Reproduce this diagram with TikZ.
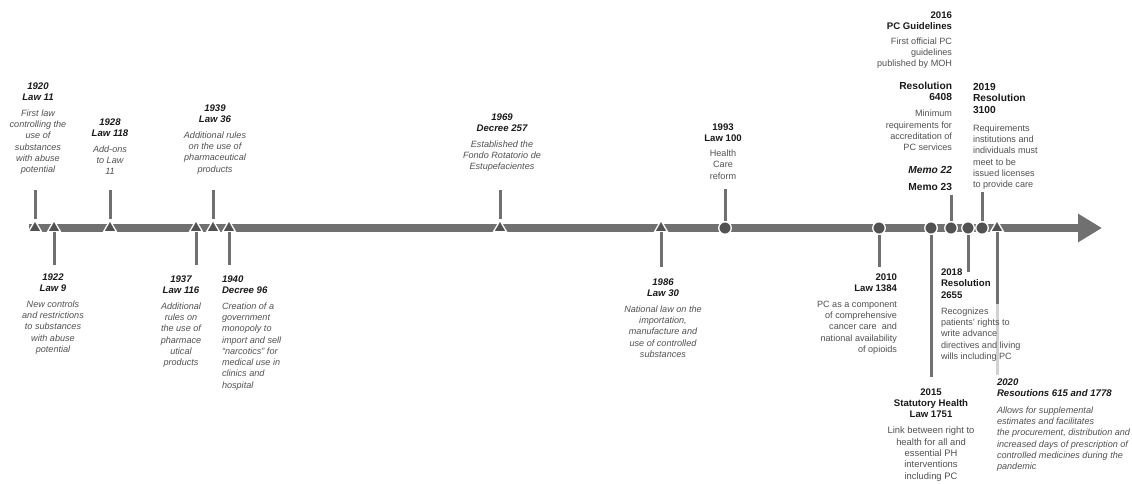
\documentclass[tikz,border=0pt]{standalone}
\usepackage{fontspec}
\setmainfont{Liberation Sans}
\usetikzlibrary{arrows.meta,shapes.geometric}
\definecolor{barc}{RGB}{112,112,112}
\definecolor{markc}{RGB}{82,82,82}
\definecolor{headc}{RGB}{25,25,25}
\definecolor{bodyc}{RGB}{80,80,80}
\definecolor{fadec}{RGB}{210,210,210}
\newcommand\evHI[1]{{\fontsize{9.6}{11}\selectfont\bfseries\itshape\color{headc}#1}}
\newcommand\evHB[1]{{\fontsize{9.6}{11}\selectfont\bfseries\color{headc}#1}}
\newcommand\evHBL[1]{{\fontsize{10.2}{11}\selectfont\bfseries\color{headc}#1}}
\newcommand\evHIL[1]{{\fontsize{10.2}{11}\selectfont\bfseries\itshape\color{headc}#1}}
\newcommand\evBI[1]{{\itshape #1}}
\newcommand\evBN[1]{#1}
\tikzset{
  lab/.style={inner sep=0pt, outer sep=0pt, font=\fontsize{9.1}{11.3}\selectfont, text=bodyc},
  tri/.style={regular polygon, regular polygon sides=3, minimum size=15pt, inner sep=0pt, fill=markc, draw=white, line width=1.3pt},
  dot/.style={circle, minimum size=12.5pt, inner sep=0pt, fill=markc, draw=white, line width=1.3pt},
  stem/.style={draw=barc, line width=3pt},
  fadestem/.style={draw=fadec, line width=3pt},
  bar/.style={draw=barc, line width=7.5pt, -{Triangle[length=24pt,width=27pt]}}
}
\begin{document}
\begin{tikzpicture}[x=1pt,y=-1pt]
\useasboundingbox (0,0) rectangle (1132,484);
% axis
\coordinate (bs) at (29,228);
\coordinate (be) at (1102,228);
\draw[bar] (bs) -- (be);
% markers
\node[tri] (m1920) at (35,228) {};
\node[tri] (m1922) at (54,228) {};
\node[tri] (m1928) at (110,228) {};
\node[tri] (m1937) at (196,228) {};
\node[tri] (m1939) at (213,228) {};
\node[tri] (m1940) at (229,228) {};
\node[tri] (m1969) at (500,228) {};
\node[tri] (m1986) at (661,228) {};
\node[dot] (m1993) at (725,228) {};
\node[dot] (m2010) at (879,228) {};
\node[dot] (m2015) at (931,228) {};
\node[dot] (m2016) at (951,228) {};
\node[dot] (m2018) at (968,228) {};
\node[dot] (m2019) at (982,228) {};
\node[tri] (m2020) at (997,228) {};
% stem ends
\coordinate (s1920) at (35,190);
\coordinate (s1922) at (54,265);
\coordinate (s1928) at (110,190);
\coordinate (s1937) at (196,265);
\coordinate (s1939) at (213,190);
\coordinate (s1940) at (229,265);
\coordinate (s1969) at (500,190);
\coordinate (s1986) at (661,267);
\coordinate (s1993) at (725,189);
\coordinate (s2010) at (879,267);
\coordinate (s2015) at (931,377);
\coordinate (s2016) at (951,195);
\coordinate (s2018) at (968,272);
\coordinate (s2019) at (982,192);
\coordinate (s2020a) at (997,304);
\coordinate (s2020b) at (997,375);
\foreach \e in {1920,1922,1928,1937,1939,1940,1969,1986,1993,2010,2015,2016,2018,2019}
  {\draw[stem] (s\e) -- (m\e);}
\draw[stem] (m2020) -- (s2020a);
\draw[fadestem] (s2020a) -- (s2020b);
% labels above
\node[lab, align=center, anchor=north] (t1920) at (38,82.5)
  {\evHI{1920}\\\evHI{Law 11}\\[4.5pt]\evBI{First law}\\\evBI{controlling the}\\\evBI{use of}\\\evBI{substances}\\\evBI{with abuse}\\\evBI{potential}};
\node[lab, align=center, anchor=north] (t1928) at (110,118.3)
  {\evHI{1928}\\\evHI{Law 118}\\[4.5pt]\evBI{Add-ons}\\\evBI{to Law}\\\evBI{11}};
\node[lab, align=center, anchor=north] (t1939) at (215,104.3)
  {\evHI{1939}\\\evHI{Law 36}\\[4.5pt]\evBI{Additional rules}\\\evBI{on the use of}\\\evBI{pharmaceutical}\\\evBI{products}};
\node[lab, align=center, anchor=north] (t1969) at (502,113.3)
  {\evHI{1969}\\\evHI{Decree 257}\\[4.5pt]\evBI{Established the}\\\evBI{Fondo Rotatorio de}\\\evBI{Estupefacientes}};
\node[lab, align=center, anchor=north] (t1993) at (723,123.3)
  {\evHB{1993}\\\evHB{Law 100}\\[4pt]\evBN{Health}\\\evBN{Care}\\\evBN{reform}};
% labels below
\node[lab, align=center, anchor=north] (t1922) at (53,273.3)
  {\evHI{1922}\\\evHI{Law 9}\\[4.5pt]\evBI{New controls}\\\evBI{and restrictions}\\\evBI{to substances}\\\evBI{with abuse}\\\evBI{potential}};
\node[lab, align=center, anchor=north] (t1937) at (181,275.3)
  {\evHI{1937}\\\evHI{Law 116}\\[4.5pt]\evBI{Additional}\\\evBI{rules on}\\\evBI{the use of}\\\evBI{pharmace}\\\evBI{utical}\\\evBI{products}};
\node[lab, align=left, anchor=north west] (t1940) at (222,275.3)
  {\evHI{1940}\\\evHI{Decree 96}\\[4.5pt]\evBI{Creation of a}\\\evBI{government}\\\evBI{monopoly to}\\\evBI{import and sell}\\\evBI{“narcotics” for}\\\evBI{medical use in}\\\evBI{clinics and}\\\evBI{hospital}};
\node[lab, align=center, anchor=north] (t1986) at (663,278.3)
  {\evHI{1986}\\\evHI{Law 30}\\[4.5pt]\evBI{National law on the}\\\evBI{importation,}\\\evBI{manufacture and}\\\evBI{use of controlled}\\\evBI{substances}};
\node[lab, align=right, anchor=north east] (t2010) at (897,273.3)
  {\evHB{2010}\\\evHB{Law 1384}\\[4.5pt]\evBN{PC as a component}\\\evBN{of comprehensive}\\\evBN{cancer care\ \ and}\\\evBN{national availability}\\\evBN{of opioids}};
\node[lab, font=\fontsize{9.4}{11.4}\selectfont, align=center, anchor=north] (t2015) at (931,388.3)
  {\evHB{2015}\\\evHB{Statutory Health}\\\evHB{Law 1751}\\[4.5pt]\evBN{Link between right to}\\\evBN{health for all and}\\\evBN{essential PH}\\\evBN{interventions}\\\evBN{including PC}};
% 2016 group
\node[lab, align=right, anchor=north east] (t2016) at (952,11.3)
  {\evHB{2016}\\\evHB{PC Guidelines}\\[3.5pt]\evBN{First official PC}\\\evBN{guidelines}\\\evBN{published by MOH}};
\node[lab, align=right, anchor=north east] (t6408) at (952,82.3)
  {\evHBL{Resolution}\\\evHBL{6408}\\[4.5pt]\evBN{Minimum}\\\evBN{requirements for}\\\evBN{accreditation of}\\\evBN{PC services}};
\node[lab, align=right, anchor=north east] (tmemo22) at (952,166.3) {\evHIL{Memo 22}};
\node[lab, align=right, anchor=north east] (tmemo23) at (952,183.3) {\evHBL{Memo 23}};
\node[lab, align=left, anchor=north west] (t2019) at (973,83.3)
  {\evHBL{2019}\\\evHBL{Resolution}\\\evHBL{3100}\\[7pt]\evBN{Requirements}\\\evBN{institutions and}\\\evBN{individuals must}\\\evBN{meet to be}\\\evBN{issued licenses}\\\evBN{to provide care}};
\node[lab, align=left, anchor=north west] (t2018) at (941,268.3)
  {\evHB{2018}\\\evHB{Resolution}\\[0.7pt]\evHB{2655}\\[4.5pt]\evBN{Recognizes}\\\evBN{patients' rights to}\\\evBN{write advance}\\\evBN{directives and living}\\\evBN{wills including PC}};
\node[lab, align=left, anchor=north west] (t2020) at (997,378.3)
  {\evHI{2020}\\\evHI{Resoutions 615 and 1778}\\[5.5pt]\evBI{Allows for supplemental}\\\evBI{estimates and facilitates}\\\evBI{the procurement, distribution and}\\\evBI{increased days of prescription of}\\\evBI{controlled medicines during the}\\\evBI{pandemic}};
\end{tikzpicture}
\end{document}
